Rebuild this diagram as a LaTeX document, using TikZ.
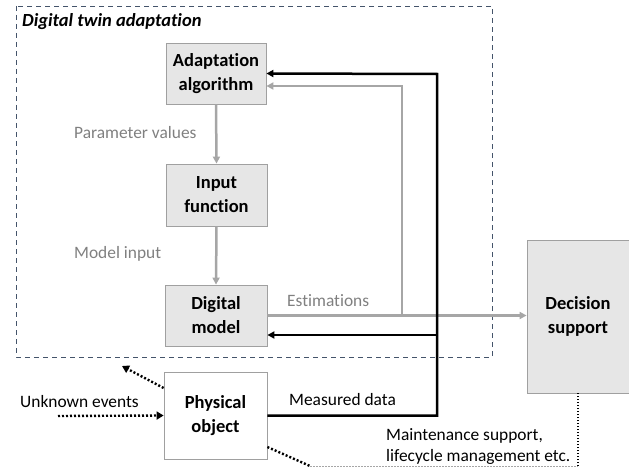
\documentclass[tikz,border=0pt]{standalone}
\usepackage{fontspec}
\setmainfont[Ligatures=NoCommon]{Carlito}
\usetikzlibrary{arrows.meta,positioning}
\definecolor{linegray}{RGB}{166,166,166}
\definecolor{textgray}{RGB}{128,128,128}
\definecolor{boxfill}{RGB}{230,230,230}
\definecolor{boxdraw}{RGB}{160,160,160}
\definecolor{framecol}{RGB}{68,84,106}
\tikzset{
  box/.style={draw=boxdraw, fill=boxfill, line width=0.8pt, align=center, font=\fontsize{18.5}{24}\selectfont\bfseries, inner sep=0pt},
  lbl/.style={font=\fontsize{17.4}{21}\selectfont, anchor=west, inner sep=0pt},
  gline/.style={draw=linegray, line width=2.5pt},
  garrow/.style={gline, -{Triangle[length=7pt,width=7pt]}},
  bline/.style={draw=black, line width=2.5pt},
  barrow/.style={bline, -{Triangle[length=7pt,width=7pt]}},
  dotarrow/.style={draw=black, line width=2.4pt, dash pattern=on 2pt off 2pt, -{Triangle[length=7pt,width=8pt]}},
}
\begin{document}
\begin{tikzpicture}[x=1pt,y=-1pt]
\clip (0,0) rectangle (629,468);
% frame
\draw[framecol, line width=0.9pt, dash pattern=on 5pt off 4pt] (16,6) rectangle (492,357);
\node[font=\fontsize{18.5}{20}\selectfont\itshape\bfseries, anchor=west, inner sep=0pt] (title) at (22,22) {Digital twin adaptation};
% boxes
\node[box, minimum width=100pt, minimum height=61pt] (adapt) at (216,73.5) {Adaptation\\algorithm};
\node[box, minimum width=101pt, minimum height=62pt] (input) at (216.5,195) {Input\\function};
\node[box, minimum width=102pt, minimum height=61pt] (dmodel) at (216,315.5) {Digital\\model};
\node[box, fill=white, minimum width=103pt, minimum height=87pt] (phys) at (215.5,415.5) {Physical\\object};
\node[box, minimum width=102pt, minimum height=153pt] (dec) at (578,316.5) {Decision\\support};
% labels
\node[lbl, text=textgray] (pv) at (74,133) {Parameter values};
\node[lbl, text=textgray] (mi) at (74,254) {Model input};
\node[lbl, text=textgray] (est) at (287,301) {Estimations};
\node[lbl] (md) at (289,400) {Measured data};
\node[lbl] (ue) at (20,402) {Unknown events};
\node[lbl, align=left, anchor=north west] (ms) at (386,428) {Maintenance support,\\lifecycle management etc.};
% coordinates
\coordinate (gj) at (402,315);
\coordinate (btop) at (437,74);
\coordinate (bmid) at (437,335);
\coordinate (ustart) at (58,416);
\coordinate (uend) at (122,366);
\coordinate (dl) at (310,466);
\coordinate (dr) at (578,466);
% gray flow
\draw[garrow] (adapt.south) -- (input.north);
\draw[garrow] (input.south) -- (dmodel.north);
\draw[garrow] (dmodel.east) -- (dmodel.east -| dec.west);
\draw[garrow] (gj) |- ([yshift=-12.5pt]adapt.east);
% black flow
\draw[barrow] (phys.east) -| (btop) -- (adapt.east);
\draw[barrow] (bmid) -- (bmid -| dmodel.east);
% dotted
\draw[dotarrow] (ustart) -- (phys.west);
\draw[dotarrow] ([yshift=27.5pt]phys.west) -- (uend);
\draw[draw=black, line width=2.4pt, dash pattern=on 2pt off 2pt] ([yshift=-31.5pt]phys.east) -- (dl);
\draw[draw=linegray, line width=0.8pt, dash pattern=on 1.5pt off 1.5pt] (dl) -- (dr);
\draw[draw=black, line width=1.3pt, dash pattern=on 1.5pt off 1.5pt] (dr) -- (dec.south -| dr);
\end{tikzpicture}
\end{document}
